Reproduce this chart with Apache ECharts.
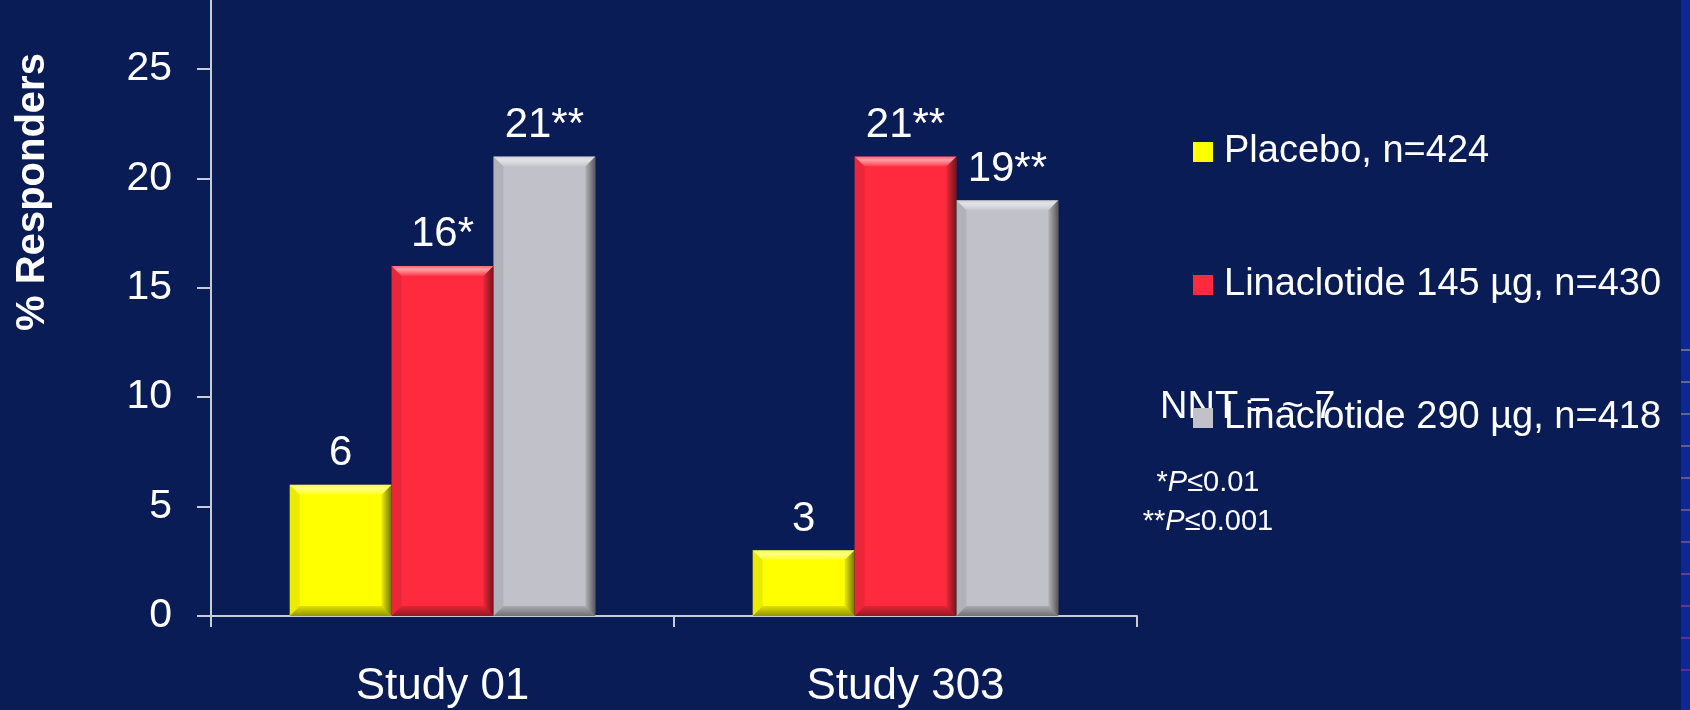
<!DOCTYPE html>
<html>
<head>
<meta charset="utf-8">
<script src="https://cdn.jsdelivr.net/npm/echarts@6/dist/echarts.min.js"></script>
<style>
  html, body { margin: 0; padding: 0; background: #0A1C56; }
  #chart { width: 1690px; height: 710px; }
</style>
</head>
<body>
<div id="chart"></div>
<script>
// Responder rates per study and treatment arm
const studies = ['Study 01', 'Study 303'];
const armNames = ['Placebo, n=424', 'Linaclotide 145 µg, n=430', 'Linaclotide 290 µg, n=418'];
const placebo = [6, 3];
const lina145 = [16, 21];
const lina290 = [21, 19];
// significance markers printed after each value
const placeboMarks = ['', ''];
const lina145Marks = ['*', '**'];
const lina290Marks = ['**', '**'];
const yTicks = [0, 5, 10, 15, 20, 25];
const footMarks = ['*', '**'];
const footThresholds = ['0.01', '0.001'];
const nntText = 'NNT = ~ 7';

const armValues = [placebo, lina145, lina290];
const armMarks = [placeboMarks, lina145Marks, lina290Marks];
const armColors = ['#FFFF00', '#FF2A3D', '#C1C1C9'];
const BAR_FRACTION = 0.22;
const FONT = '"Liberation Sans", Arial, Helvetica, sans-serif';

const chart = echarts.init(document.getElementById('chart'), null, { renderer: 'canvas' });

// bevelled edges drawn over each bar
function renderBevel(params, api) {
  const cat = api.value(0), val = api.value(1), s = api.value(2);
  const base = api.coord([cat, 0]);
  const top = api.coord([cat, val]);
  const w = api.size([1, 0])[0] * BAR_FRACTION;
  const x0 = base[0] - 1.5 * w + s * w;
  const x1 = x0 + w;
  const y0 = top[1], y1 = base[1];
  const b = Math.min(10, (y1 - y0) / 2);
  const LG = echarts.graphic.LinearGradient;
  return {
    type: 'group',
    children: [
      { type: 'polygon', shape: { points: [[x0, y0], [x1, y0], [x1 - b, y0 + b], [x0 + b, y0 + b]] },
        style: { fill: new LG(0, 0, 0, 1, [
          { offset: 0, color: 'rgba(255,255,255,0.25)' },
          { offset: 0.35, color: 'rgba(255,255,255,0.55)' },
          { offset: 1, color: 'rgba(255,255,255,0.08)' }]) } },
      { type: 'polygon', shape: { points: [[x0, y0], [x0 + b, y0 + b], [x0 + b, y1 - b], [x0, y1]] },
        style: { fill: 'rgba(0,0,0,0.08)' } },
      { type: 'polygon', shape: { points: [[x1, y0], [x1, y1], [x1 - b, y1 - b], [x1 - b, y0 + b]] },
        style: { fill: new LG(0, 0, 1, 0, [
          { offset: 0, color: 'rgba(0,0,0,0.08)' },
          { offset: 1, color: 'rgba(0,0,0,0.55)' }]) } },
      { type: 'polygon', shape: { points: [[x0, y1], [x0 + b, y1 - b], [x1 - b, y1 - b], [x1, y1]] },
        style: { fill: new LG(0, 0, 0, 1, [
          { offset: 0, color: 'rgba(0,0,0,0.12)' },
          { offset: 1, color: 'rgba(0,0,0,0.42)' }]) } }
    ]
  };
}

const bevelData = [];
armValues.forEach((vals, s) => vals.forEach((v, c) => bevelData.push([c, v, s])));

const barSeries = armNames.map((name, s) => ({
  name: name,
  type: 'bar',
  data: armValues[s],
  barWidth: (BAR_FRACTION * 100) + '%',
  barGap: '0%',
  itemStyle: { color: armColors[s] },
  label: {
    show: true,
    position: 'top',
    distance: 10,
    color: '#FFFFFF',
    fontSize: 42,
    fontFamily: FONT,
    formatter: p => p.value + armMarks[s][p.dataIndex]
  },
  z: 2
}));

// decorative strip on the right edge
const stripLineColors = ['#5d6d8c', '#5d6a8c', '#5e668c', '#5d608c', '#5c5a8e', '#5b548f', '#5a4c90', '#594491', '#583c93', '#573495', '#562e96'];
const stripLines = stripLineColors.map((col, i) => ({
  type: 'rect',
  shape: { x: 1681, y: 349 + i * 32, width: 9, height: 2 },
  style: { fill: col },
  silent: true
}));

const footGraphics = footMarks.map((m, i) => ({
  type: 'text',
  x: 1208,
  y: 483 + i * 39,
  style: {
    text: m + '{i|P}≤' + footThresholds[i],
    fill: '#FFFFFF',
    fontSize: 29,
    fontFamily: FONT,
    align: 'center',
    verticalAlign: 'middle',
    rich: { i: { fontStyle: 'italic', fontSize: 29, fontFamily: FONT, fill: '#FFFFFF' } }
  },
  silent: true
}));

const option = {
  backgroundColor: '#0A1C56',
  animation: false,
  grid: { left: 211, right: 553, top: 0, bottom: 94, containLabel: false },
  legend: {
    data: armNames,
    orient: 'vertical',
    left: 1188,
    top: 128,
    itemWidth: 20,
    itemHeight: 20,
    itemGap: 95,
    icon: 'rect',
    textStyle: { color: '#FFFFFF', fontSize: 38, fontFamily: FONT, lineHeight: 38, padding: [0, 0, 0, 6] },
    selectedMode: false,
    z: 12
  },
  xAxis: {
    type: 'category',
    data: studies,
    axisLine: { lineStyle: { color: '#C8CCD4', width: 2 } },
    axisTick: { show: true, length: 11, lineStyle: { color: '#C8CCD4', width: 2 } },
    axisLabel: { color: '#FFFFFF', fontSize: 44, fontFamily: FONT, margin: 49 },
    splitLine: { show: false }
  },
  yAxis: {
    type: 'value',
    min: 0,
    max: 28.15,
    axisLine: { show: true, lineStyle: { color: '#C8CCD4', width: 2 } },
    axisTick: { show: true, length: 14, customValues: yTicks, lineStyle: { color: '#C8CCD4', width: 2 } },
    axisLabel: { color: '#FFFFFF', fontSize: 41, fontFamily: FONT, margin: 39, customValues: yTicks },
    splitLine: { show: false }
  },
  series: barSeries.concat([{
    type: 'custom',
    coordinateSystem: 'cartesian2d',
    renderItem: renderBevel,
    data: bevelData,
    encode: { x: 0, y: 1 },
    silent: true,
    z: 3
  }]),
  graphic: [
    {
      type: 'text',
      x: 33,
      y: 192,
      rotation: Math.PI / 2,
      style: {
        text: '% Responders',
        fill: '#FFFFFF',
        fontSize: 40,
        fontWeight: 'bold',
        fontFamily: FONT,
        align: 'center',
        verticalAlign: 'middle'
      },
      silent: true
    },
    {
      type: 'text',
      x: 1160,
      y: 408,
      style: {
        text: nntText,
        fill: '#FFFFFF',
        fontSize: 38,
        fontFamily: FONT,
        align: 'left',
        verticalAlign: 'middle'
      },
      silent: true,
      z: 10
    },
    { type: 'rect', shape: { x: 1681, y: 0, width: 9, height: 710 }, style: { fill: '#0B2894' }, silent: true }
  ].concat(stripLines, footGraphics)
};

chart.setOption(option);
</script>
</body>
</html>
